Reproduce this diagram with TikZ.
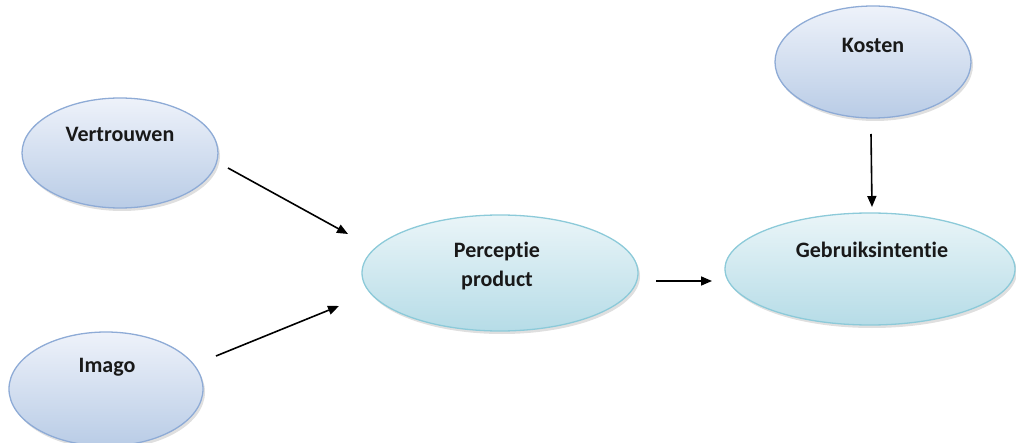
\documentclass[tikz,border=0pt]{standalone}
\usepackage{fontspec}
\setmainfont{Carlito}[Ligatures=NoCommon]
\usetikzlibrary{shapes.geometric,arrows.meta,shadows}
\definecolor{bluetop}{HTML}{EEF2FA}
\definecolor{bluebot}{HTML}{B9CCE6}
\definecolor{blueline}{HTML}{8EABD6}
\definecolor{aquatop}{HTML}{EAF5F8}
\definecolor{aquabot}{HTML}{B6DCE7}
\definecolor{aqualine}{HTML}{8CCAD9}
\tikzset{
  oval/.style={ellipse, draw, line width=1.3pt, inner sep=0pt,
    drop shadow={shadow xshift=2pt, shadow yshift=-3pt, opacity=0.25, fill=gray}},
  blueoval/.style={oval, draw=blueline, top color=bluetop, bottom color=bluebot},
  aquaoval/.style={oval, draw=aqualine, top color=aquatop, bottom color=aquabot},
  lbl/.style={font=\fontsize{22}{29}\selectfont\bfseries, align=center, text=black!90},
  arr/.style={line width=1.6pt, -{Triangle[length=11pt,width=9pt]}}
}
\begin{document}
\begin{tikzpicture}[x=1pt,y=-1pt]
\useasboundingbox (0,0) rectangle (1016,443);
\node[blueoval, minimum width=196pt, minimum height=110pt] (vt) at (120,153) {};
\node[lbl] (vtt) at (120,134) {Vertrouwen};
\node[blueoval, minimum width=194pt, minimum height=114pt] (im) at (106,389) {};
\node[lbl] (imt) at (107,367) {Imago};
\node[aquaoval, minimum width=276pt, minimum height=116pt] (pp) at (500,273) {};
\node[lbl] (ppt) at (497,266) {Perceptie\\product};
\node[blueoval, minimum width=196pt, minimum height=112pt] (ko) at (873,62) {};
\node[lbl] (kot) at (873,45) {Kosten};
\node[aquaoval, minimum width=290pt, minimum height=112pt] (gi) at (870,269) {};
\node[lbl] (git) at (872,250) {Gebruiksintentie};
\coordinate (a1s) at (228,168);
\coordinate (a1e) at (348,234);
\coordinate (a2s) at (216,356);
\coordinate (a2e) at (339,306);
\coordinate (a3s) at (656,281);
\coordinate (a3e) at (712,281);
\coordinate (a4s) at (871,134);
\coordinate (a4e) at (872,207);
\draw[arr] (a1s) -- (a1e);
\draw[arr] (a2s) -- (a2e);
\draw[arr] (a3s) -- (a3e);
\draw[arr] (a4s) -- (a4e);
\end{tikzpicture}
\end{document}
